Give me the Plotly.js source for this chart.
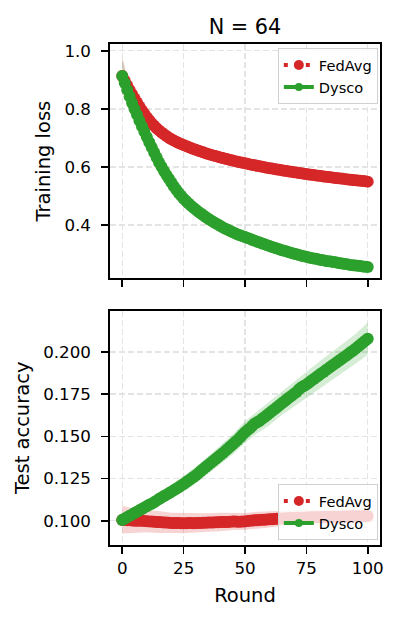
<!DOCTYPE html>
<html>
<head>
<meta charset="utf-8">
<script src="https://cdn.plot.ly/plotly-3.0.1.min.js"></script>
<style>html,body{margin:0;padding:0;background:#fff;}#chart{width:400px;height:622px;}</style>
</head>
<body>
<div id="chart"></div>
<script>
// Rounds 0..100
const rounds = Array.from({length: 101}, (_, i) => i);

// Training loss (mean), one value per round
const fedavgLoss = [
  0.913,0.8965,0.8805,0.865,0.850,0.8355,0.8215,0.808,0.795,0.7825,
  0.7710,0.7603,0.7505,0.7415,0.7332,0.7255,0.7184,0.7119,0.7059,0.7003,
  0.6952,0.6905,0.6861,0.6821,0.6784,0.6750,0.6714,0.6680,0.6647,0.6615,
  0.6584,0.6554,0.6526,0.6498,0.6470,0.6444,0.6419,0.6394,0.6369,0.6346,
  0.6323,0.6300,0.6278,0.6257,0.6236,0.6216,0.6196,0.6176,0.6157,0.6138,
  0.6120,0.6102,0.6084,0.6067,0.6050,0.6033,0.6017,0.6001,0.5985,0.5969,
  0.5954,0.5939,0.5924,0.5910,0.5896,0.5881,0.5868,0.5854,0.5840,0.5827,
  0.5814,0.5801,0.5788,0.5776,0.5764,0.5751,0.5739,0.5727,0.5716,0.5704,
  0.5693,0.5681,0.5670,0.5659,0.5648,0.5638,0.5627,0.5617,0.5606,0.5596,
  0.5586,0.5576,0.5566,0.5556,0.5546,0.5537,0.5527,0.5518,0.5508,0.5499,
  0.5490
];
const dyscoLoss = [
  0.913,0.889,0.865,0.842,0.820,0.799,0.779,0.759,0.740,0.721,
  0.703,0.685,0.667,0.649,0.632,0.615,0.600,0.586,0.572,0.559,
  0.546,0.533,0.521,0.510,0.500,0.490,0.482,0.474,0.466,0.459,
  0.452,0.445,0.439,0.433,0.427,0.421,0.416,0.411,0.406,0.401,
  0.396,0.391,0.387,0.383,0.379,0.375,0.371,0.367,0.364,0.361,
  0.358,0.355,0.352,0.348,0.345,0.342,0.339,0.336,0.333,0.330,
  0.327,0.324,0.321,0.319,0.316,0.313,0.311,0.308,0.306,0.303,
  0.301,0.299,0.296,0.294,0.292,0.290,0.288,0.286,0.284,0.283,
  0.281,0.279,0.278,0.276,0.275,0.274,0.272,0.271,0.269,0.268,
  0.266,0.265,0.264,0.262,0.261,0.260,0.259,0.258,0.257,0.256,
  0.255
];

// Test accuracy (mean), one value per round
const fedavgAcc = [
  0.1004,0.1005,0.1003,0.1002,0.1001,0.1000,0.1000,0.0999,0.0999,0.0998,
  0.0997,0.0996,0.0995,0.0994,0.0993,0.0992,0.0991,0.0990,0.0989,0.0988,
  0.0987,0.0987,0.0986,0.0986,0.0985,0.0985,0.0985,0.0986,0.0986,0.0985,
  0.0986,0.0987,0.0987,0.0988,0.0988,0.0989,0.0990,0.0990,0.0991,0.0991,
  0.0992,0.0993,0.0993,0.0993,0.0994,0.0995,0.0995,0.0994,0.0994,0.0995,
  0.0996,0.0998,0.1000,0.1001,0.1002,0.1003,0.1004,0.1005,0.1006,0.1007,
  0.1008,0.1009,0.1010,0.1011,0.1012,0.1013,0.1013,0.1014,0.1015,0.1016,
  0.1016,0.1017,0.1017,0.1018,0.1018,0.1019,0.1019,0.1020,0.1020,0.1021,
  0.1021,0.1022,0.1022,0.1022,0.1023,0.1023,0.1023,0.1024,0.1024,0.1024,
  0.1025,0.1025,0.1025,0.1026,0.1026,0.1026,0.1027,0.1027,0.1027,0.1028,
  0.1028
];
const dyscoAcc = [
  0.1004,0.1013,0.1021,0.1030,0.1037,0.1045,0.1053,0.1062,0.1070,0.1078,
  0.1086,0.1094,0.1101,0.1110,0.1119,0.1128,0.1137,0.1146,0.1154,0.1163,
  0.1171,0.1180,0.1189,0.1198,0.1208,0.1218,0.1228,0.1238,0.1248,0.1259,
  0.1270,0.1282,0.1294,0.1306,0.1318,0.1330,0.1342,0.1354,0.1366,0.1378,
  0.1390,0.1402,0.1414,0.1427,0.1440,0.1453,0.1466,0.1479,0.1494,0.1510,
  0.1525,0.1537,0.1548,0.1563,0.1576,0.1584,0.1593,0.1604,0.1615,0.1627,
  0.1638,0.1650,0.1661,0.1673,0.1684,0.1696,0.1707,0.1718,0.1730,0.1741,
  0.1752,0.1763,0.1779,0.1791,0.1798,0.1807,0.1818,0.1829,0.1840,0.1850,
  0.1861,0.1872,0.1882,0.1893,0.1903,0.1914,0.1924,0.1935,0.1945,0.1956,
  0.1966,0.1977,0.1987,0.1998,0.2008,0.2019,0.2031,0.2043,0.2055,0.2067,
  0.2079
];

// Spread (std) around the mean, read at these rounds
const bandRounds   = [0,1,2,3,4,5,10,15,20,25,30,35,40,45,50,55,60,65,70,75,80,85,90,95,100];
const fedavgLossSd = [0.065,0.045,0.032,0.024,0.018,0.014,0.007,0.005,0.004,0.004,0.003,0.003,0.003,0.003,0.003,0.003,0.003,0.003,0.003,0.003,0.003,0.003,0.003,0.003,0.003];
const dyscoLossSd  = [0.060,0.040,0.028,0.020,0.015,0.012,0.006,0.004,0.004,0.003,0.003,0.003,0.003,0.003,0.003,0.003,0.003,0.003,0.003,0.003,0.003,0.003,0.003,0.003,0.003];
const fedavgAccSd  = [0.0080,0.0080,0.0078,0.0075,0.0072,0.0070,0.0065,0.0065,0.0060,0.0060,0.0058,0.0055,0.0055,0.0050,0.0050,0.0050,0.0048,0.0045,0.0045,0.0045,0.0042,0.0040,0.0040,0.0040,0.0040];
const dyscoAccSd   = [0.0030,0.0035,0.0038,0.0040,0.0040,0.0040,0.0040,0.0040,0.0040,0.0045,0.0050,0.0050,0.0055,0.0060,0.0065,0.0065,0.0070,0.0070,0.0075,0.0078,0.0080,0.0082,0.0085,0.0088,0.0095];

const seriesNames = ['FedAvg', 'Dysco'];
const RED = '#d62728', GREEN = '#2ca02c';

function band(mean, sd, color, xa, ya) {
  const up = bandRounds.map((r, i) => mean[r] + sd[i]);
  const lo = bandRounds.map((r, i) => mean[r] - sd[i]);
  return {
    x: bandRounds.concat(bandRounds.slice().reverse()),
    y: up.concat(lo.slice().reverse()),
    xaxis: xa, yaxis: ya, type: 'scatter', mode: 'lines',
    fill: 'toself', fillcolor: color, line: {width: 0},
    showlegend: false, hoverinfo: 'skip'
  };
}
function curve(y, color, dash, xa, ya) {
  return {
    x: rounds, y: y, xaxis: xa, yaxis: ya, type: 'scatter', mode: 'lines+markers',
    line: {color: color, width: 4, dash: dash},
    marker: {color: color, size: 12, line: {width: 0}},
    showlegend: false
  };
}
function legendItem(name, color, dash, msize, leg) {
  return {
    x: [null], y: [null], type: 'scatter', mode: 'lines+markers', name: name,
    line: {color: color, width: 4, dash: dash},
    marker: {color: color, size: msize},
    legend: leg, showlegend: true
  };
}

const data = [
  band(fedavgLoss, fedavgLossSd, 'rgba(214,39,40,0.2)', 'x', 'y'),
  band(dyscoLoss, dyscoLossSd, 'rgba(44,160,44,0.2)', 'x', 'y'),
  curve(fedavgLoss, RED, '4px,7px', 'x', 'y'),
  curve(dyscoLoss, GREEN, 'solid', 'x', 'y'),
  band(fedavgAcc, fedavgAccSd, 'rgba(214,39,40,0.2)', 'x2', 'y2'),
  band(dyscoAcc, dyscoAccSd, 'rgba(44,160,44,0.2)', 'x2', 'y2'),
  curve(fedavgAcc, RED, '4px,7px', 'x2', 'y2'),
  curve(dyscoAcc, GREEN, 'solid', 'x2', 'y2'),
  legendItem(seriesNames[0], RED, '4px,7px', 10, 'legend'),
  legendItem(seriesNames[1], GREEN, 'solid', 8, 'legend'),
  legendItem(seriesNames[0], RED, '4px,7px', 10, 'legend2'),
  legendItem(seriesNames[1], GREEN, 'solid', 8, 'legend2')
];

const FONT = 'DejaVu Sans, sans-serif';
const xCommon = {
  range: [-5, 105], tickvals: [0, 25, 50, 75, 100],
  ticks: 'outside', ticklen: 7, tickwidth: 1.7, tickcolor: '#000',
  showline: true, linewidth: 1.7, linecolor: '#000', mirror: true,
  showgrid: true, gridcolor: '#e4e4e4', gridwidth: 1.5, griddash: '6px,3px',
  zeroline: false, tickfont: {size: 16.7, color: '#000'}
};
const yCommon = {
  ticks: 'outside', ticklen: 7, tickwidth: 1.7, tickcolor: '#000',
  showline: true, linewidth: 1.7, linecolor: '#000', mirror: true,
  showgrid: true, gridcolor: '#e4e4e4', gridwidth: 1.5, griddash: '6px,3px',
  zeroline: false, tickfont: {size: 16.7, color: '#000'}, ticklabelstandoff: 7
};
const legendCommon = {
  bgcolor: 'rgba(255,255,255,0.8)', bordercolor: '#d0d0d0', borderwidth: 1,
  font: {size: 14.6, color: '#000', family: FONT}, xanchor: 'right', x: 0.992,
  tracegroupgap: 0, entrywidth: 66, entrywidthmode: 'pixels'
};

const layout = {
  width: 400, height: 622,
  margin: {l: 110, r: 20, t: 44, b: 77},
  paper_bgcolor: '#fff', plot_bgcolor: '#fff',
  font: {family: FONT, color: '#000'},
  title: {text: 'N = 64', font: {size: 20.8, color: '#000'}, x: 0.5, xref: 'paper',
          y: 1 - 27 / 622, yref: 'container', yanchor: 'middle'},
  xaxis: Object.assign({}, xCommon, {domain: [0, 1], anchor: 'y', showticklabels: false}),
  yaxis: Object.assign({}, yCommon, {domain: [0.5323, 1], anchor: 'x', range: [0.216, 1.023],
          tickvals: [0.4, 0.6, 0.8, 1.0], tickformat: '.1f',
          title: {text: 'Training loss', font: {size: 19.5}, standoff: 8}}),
  xaxis2: Object.assign({}, xCommon, {domain: [0, 1], anchor: 'y2', showticklabels: true,
          title: {text: 'Round', font: {size: 19.5}, standoff: 11}}),
  yaxis2: Object.assign({}, yCommon, {domain: [0, 0.4677], anchor: 'x2', range: [0.0856, 0.2245],
          tickvals: [0.1, 0.125, 0.15, 0.175, 0.2], tickformat: '.3f',
          title: {text: 'Test accuracy', font: {size: 19.5}, standoff: 8}}),
  legend: Object.assign({}, legendCommon, {y: 0.992, yanchor: 'top'}),
  legend2: Object.assign({}, legendCommon, {y: 0.01, yanchor: 'bottom'}),
  showlegend: true
};

Plotly.newPlot('chart', data, layout, {staticPlot: true, displayModeBar: false});
</script>
</body>
</html>
